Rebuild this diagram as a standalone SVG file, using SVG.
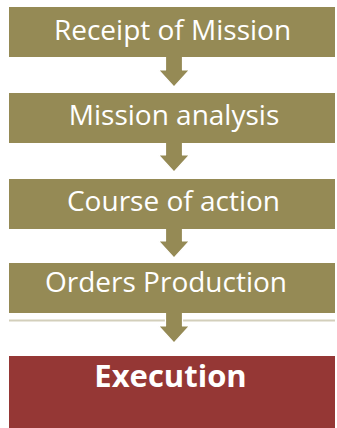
<svg xmlns="http://www.w3.org/2000/svg" width="337" height="428" viewBox="0 0 337 428">
<style>
.box{fill:#958a55}
.exec{fill:#953735}
.lbl{font-family:"Open Sans","Liberation Sans",sans-serif;font-size:28px;fill:#ffffff;text-anchor:middle}
.bold{font-weight:bold;font-size:31px}
.arr{fill:#958a55;stroke:#ffffff;stroke-width:1.2;stroke-linejoin:round}
</style>
<rect width="337" height="428" fill="#ffffff"/>
<line x1="9" y1="320.5" x2="335" y2="320.5" stroke="#d3cfbb" stroke-width="2"/>
<g id="connectors">
<polygon class="arr" points="165.5,56 182.5,56 182.5,70 189.5,70 174,87 158.5,70 165.5,70"/>
<polygon class="arr" points="165.5,142 182.5,142 182.5,155 189.5,155 174,172 158.5,155 165.5,155"/>
<polygon class="arr" points="165.5,228 182.5,228 182.5,241 189.5,241 174,258 158.5,241 165.5,241"/>
<polygon class="arr" points="165.5,312 182.5,312 182.5,326 189.5,326 174,343 158.5,326 165.5,326"/>
</g>
<g id="n1"><rect class="box" x="9" y="7" width="326" height="50"/><text class="lbl" x="172.5" y="40">Receipt of Mission</text></g>
<g id="n2"><rect class="box" x="9" y="93" width="326" height="50"/><text class="lbl" x="174" y="125">Mission analysis</text></g>
<g id="n3"><rect class="box" x="9" y="179" width="326" height="50"/><text class="lbl" x="173.5" y="211">Course of action</text></g>
<g id="n4"><rect class="box" x="9" y="263" width="326" height="50"/><text class="lbl" x="166" y="292">Orders Production</text></g>
<g id="n5"><rect class="exec" x="9" y="356" width="326" height="72"/><text class="lbl bold" x="170.5" y="387">Execution</text></g>
</svg>
